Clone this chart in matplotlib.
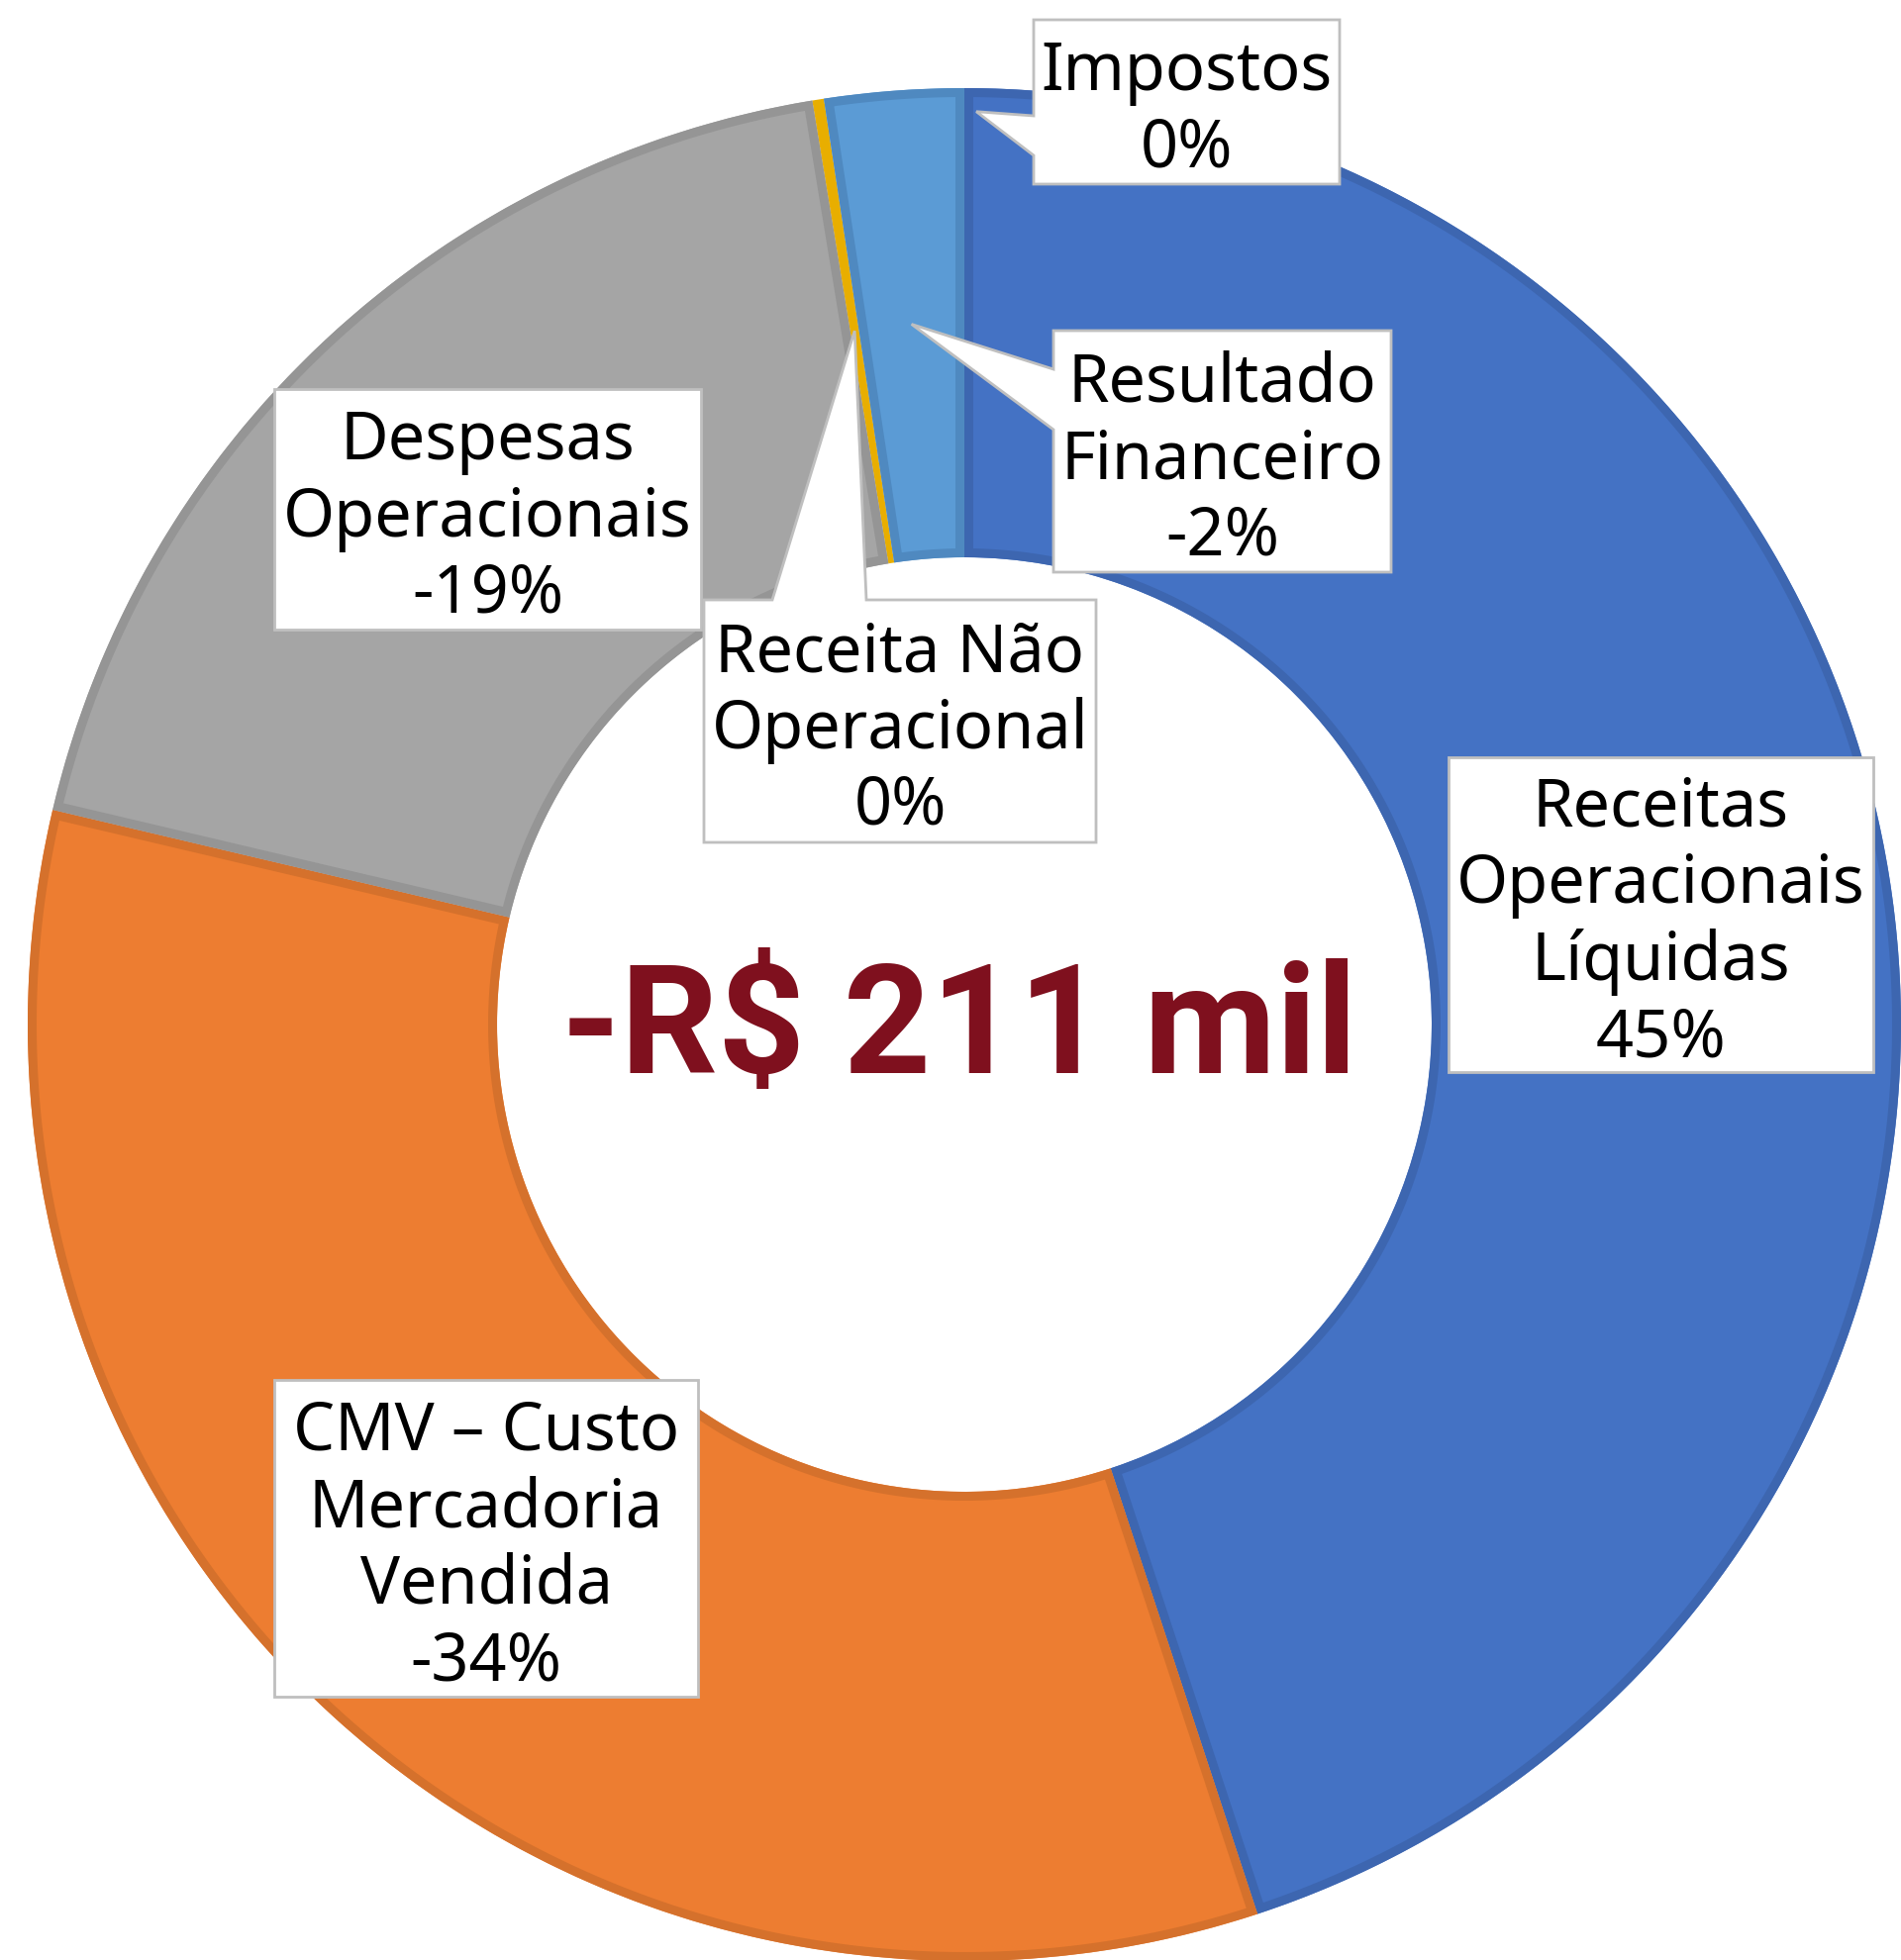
import matplotlib
matplotlib.use('Agg')
import matplotlib.pyplot as plt
from matplotlib import font_manager
from matplotlib.patches import Polygon
import numpy as np

categorias = ['Receitas\nOperacionais\nLíquidas', 'CMV – Custo\nMercadoria\nVendida',
              'Despesas\nOperacionais', 'Receita Não\nOperacional',
              'Resultado\nFinanceiro', 'Impostos']
valores = [45.0, 33.8, 18.75, 0.2, 2.4, 0.0]
sinais = [1, -1, -1, 1, -1, -1]
resultado = '-R$ 211 mil'

cores = ['#4472C4', '#ED7D31', '#A5A5A5', '#FFC000', '#5B9BD5', '#70AD47']
bordas = ['#3D66B0', '#D5712C', '#959595', '#E8AE00', '#4F89C0', '#63A03F']

# layout in pixels, origin at top-left
W, H, DPI = 1920, 1980, 100
CX, CY = 974, 1035
R_OUT, R_IN = 946, 472
BORDA = 4.5          # half of the inner border band, px
caixas = [(1463, 765, 429, 318), (277, 1394, 428, 320), (277, 393, 431, 243),
          (711, 606, 396, 245), (1064, 334, 341, 244), (1044, 20, 309, 166)]
# side, base start, base end, radius fraction of apex, angle offset of apex
ponteiros = [None, None, None, ('top', 780, 875, 0.75, 0),
             ('left', 373, 434, 0.75, 0), ('left', 117, 157, 0.975, 0.75)]


def callout(caixa, ponteiro, apex):
    x, y, w, h = caixa
    if ponteiro is None:
        return [(x, y), (x + w, y), (x + w, y + h), (x, y + h)]
    lado, b1, b2 = ponteiro[:3]
    if lado == 'left':
        return [(x, y), (x + w, y), (x + w, y + h), (x, y + h), (x, b2), apex, (x, b1)]
    return [(x, y), (b1, y), apex, (b2, y), (x + w, y), (x + w, y + h), (x, y + h)]


# polygon inset by d from the wedge outline, so its stroke stays inside the slice
def borda_interna(t1, t2, d):
    ro, ri = R_OUT - d, R_IN + d
    a, b = np.deg2rad(t1), np.deg2rad(t2)
    ai1, ai2 = a + np.arcsin(d / ri), b - np.arcsin(d / ri)
    if ai2 - ai1 < np.arcsin(d / ri):
        return None
    ao = np.linspace(a + np.arcsin(d / ro), b - np.arcsin(d / ro), 300)
    ai = np.linspace(ai2, ai1, 300)
    xs = np.concatenate([CX + ro * np.cos(ao), CX + ri * np.cos(ai)])
    ys = np.concatenate([CY + ro * np.sin(ao), CY + ri * np.sin(ai)])
    return np.column_stack([xs, ys])


def Main():
    nomes = {f.name for f in font_manager.fontManager.ttflist}
    if 'Liberation Sans Narrow' in nomes:
        fonte_centro, tam_centro = 'Liberation Sans Narrow', 120
    else:
        fonte_centro, tam_centro = 'Roboto', 111

    fig = plt.figure(figsize=(W / DPI, H / DPI), dpi=DPI)
    ax = fig.add_axes([0, 0, 1, 1])

    wedges, _ = ax.pie(valores, colors=cores, radius=R_OUT, center=(CX, CY),
                       startangle=-90, counterclock=True,
                       wedgeprops=dict(width=R_OUT - R_IN, linewidth=0))
    lw = 2 * BORDA * 72 / DPI
    for w, v, b in zip(wedges, valores, bordas):
        if v == 0:
            w.set_visible(False)
            continue
        pts = borda_interna(w.theta1, w.theta2, BORDA)
        if pts is None:
            w.set_facecolor(b)
            continue
        ax.add_patch(Polygon(pts, closed=True, fill=False, edgecolor=b,
                             linewidth=lw, joinstyle='miter', zorder=w.get_zorder()))

    ax.set_xlim(0, W)
    ax.set_ylim(H, 0)
    ax.set_aspect('equal', adjustable='box')
    ax.axis('off')

    total = sum(valores)
    for i, nome in enumerate(categorias):
        pct = sinais[i] * int(round(valores[i] / total * 100))
        texto = '%s\n%d%%' % (nome, pct)
        apex = None
        if ponteiros[i] is not None:
            w = wedges[i]
            meio = np.deg2rad((w.theta1 + w.theta2) / 2 + ponteiros[i][4])
            rf = ponteiros[i][3] * R_OUT
            apex = (CX + rf * np.cos(meio), CY + rf * np.sin(meio))
        forma = Polygon(callout(caixas[i], ponteiros[i], apex), closed=True,
                        facecolor='white', edgecolor='#BFBFBF', linewidth=2, zorder=3)
        ax.add_patch(forma)
        x, y, w_, h_ = caixas[i]
        ax.text(x + w_ / 2, y + h_ / 2 + 9, texto, ha='center', va='center',
                multialignment='center', fontsize=48, family='Noto Sans',
                linespacing=1.18, color='black', zorder=4)

    ax.text(969, 1084, resultado, ha='center', va='baseline',
            fontsize=tam_centro, family=[fonte_centro, 'DejaVu Sans'],
            fontweight='bold', color='#7F101E', zorder=4)

    fig.savefig('out.png', dpi=DPI)


if __name__ == '__main__':
    Main()
